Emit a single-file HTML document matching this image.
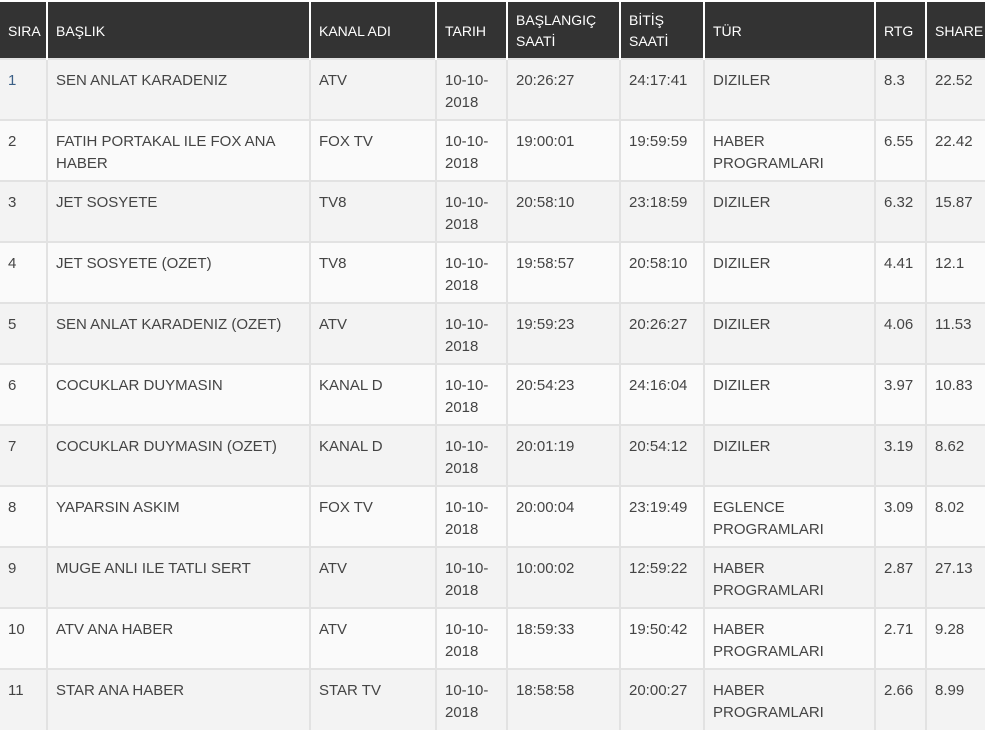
<!DOCTYPE html>
<html><head><meta charset="utf-8"><style>
html,body{margin:0;padding:0;background:#fff;width:985px;height:723px;overflow:hidden}
table{position:absolute;left:0;top:2px;border-collapse:collapse;table-layout:fixed;width:985px;font-family:"Liberation Sans",sans-serif;font-size:15px;color:#444}
th{background:#333;color:#fff;font-weight:normal;text-align:left;height:54px;padding:2px 6px 0 8px;border-left:2px solid #fff;vertical-align:middle;font-size:14px;line-height:21px;white-space:nowrap;overflow:hidden}
th:first-child{border-left:none}
td{height:61px;padding:10px 8px 0 8px;border-left:2px solid #e2e2e2;border-top:2px solid #e2e2e2;vertical-align:top;line-height:22px;box-sizing:border-box}
td:first-child{border-left:none}
tr:nth-child(odd) td{background:#f3f3f3}
tr:nth-child(even) td{background:#fafafa}
td.n{color:#3b5f86}
</style></head><body>
<table>
<colgroup><col style="width:47px"><col style="width:263px"><col style="width:126px"><col style="width:71px"><col style="width:113px"><col style="width:84px"><col style="width:171px"><col style="width:51px"><col style="width:59px"></colgroup>
<thead><tr><th>SIRA</th><th>BAŞLIK</th><th>KANAL ADI</th><th>TARIH</th><th>BAŞLANGIÇ<br>SAATİ</th><th>BİTİŞ<br>SAATİ</th><th>TÜR</th><th>RTG</th><th>SHARE</th></tr></thead>
<tbody>
<tr><td class="n">1</td><td>SEN ANLAT KARADENIZ</td><td>ATV</td><td>10-10-<br>2018</td><td>20:26:27</td><td>24:17:41</td><td>DIZILER</td><td>8.3</td><td>22.52</td></tr>
<tr><td>2</td><td>FATIH PORTAKAL ILE FOX ANA HABER</td><td>FOX TV</td><td>10-10-<br>2018</td><td>19:00:01</td><td>19:59:59</td><td>HABER PROGRAMLARI</td><td>6.55</td><td>22.42</td></tr>
<tr><td>3</td><td>JET SOSYETE</td><td>TV8</td><td>10-10-<br>2018</td><td>20:58:10</td><td>23:18:59</td><td>DIZILER</td><td>6.32</td><td>15.87</td></tr>
<tr><td>4</td><td>JET SOSYETE (OZET)</td><td>TV8</td><td>10-10-<br>2018</td><td>19:58:57</td><td>20:58:10</td><td>DIZILER</td><td>4.41</td><td>12.1</td></tr>
<tr><td>5</td><td>SEN ANLAT KARADENIZ (OZET)</td><td>ATV</td><td>10-10-<br>2018</td><td>19:59:23</td><td>20:26:27</td><td>DIZILER</td><td>4.06</td><td>11.53</td></tr>
<tr><td>6</td><td>COCUKLAR DUYMASIN</td><td>KANAL D</td><td>10-10-<br>2018</td><td>20:54:23</td><td>24:16:04</td><td>DIZILER</td><td>3.97</td><td>10.83</td></tr>
<tr><td>7</td><td>COCUKLAR DUYMASIN (OZET)</td><td>KANAL D</td><td>10-10-<br>2018</td><td>20:01:19</td><td>20:54:12</td><td>DIZILER</td><td>3.19</td><td>8.62</td></tr>
<tr><td>8</td><td>YAPARSIN ASKIM</td><td>FOX TV</td><td>10-10-<br>2018</td><td>20:00:04</td><td>23:19:49</td><td>EGLENCE PROGRAMLARI</td><td>3.09</td><td>8.02</td></tr>
<tr><td>9</td><td>MUGE ANLI ILE TATLI SERT</td><td>ATV</td><td>10-10-<br>2018</td><td>10:00:02</td><td>12:59:22</td><td>HABER PROGRAMLARI</td><td>2.87</td><td>27.13</td></tr>
<tr><td>10</td><td>ATV ANA HABER</td><td>ATV</td><td>10-10-<br>2018</td><td>18:59:33</td><td>19:50:42</td><td>HABER PROGRAMLARI</td><td>2.71</td><td>9.28</td></tr>
<tr><td>11</td><td>STAR ANA HABER</td><td>STAR TV</td><td>10-10-<br>2018</td><td>18:58:58</td><td>20:00:27</td><td>HABER PROGRAMLARI</td><td>2.66</td><td>8.99</td></tr>
</tbody></table>
</body></html>
